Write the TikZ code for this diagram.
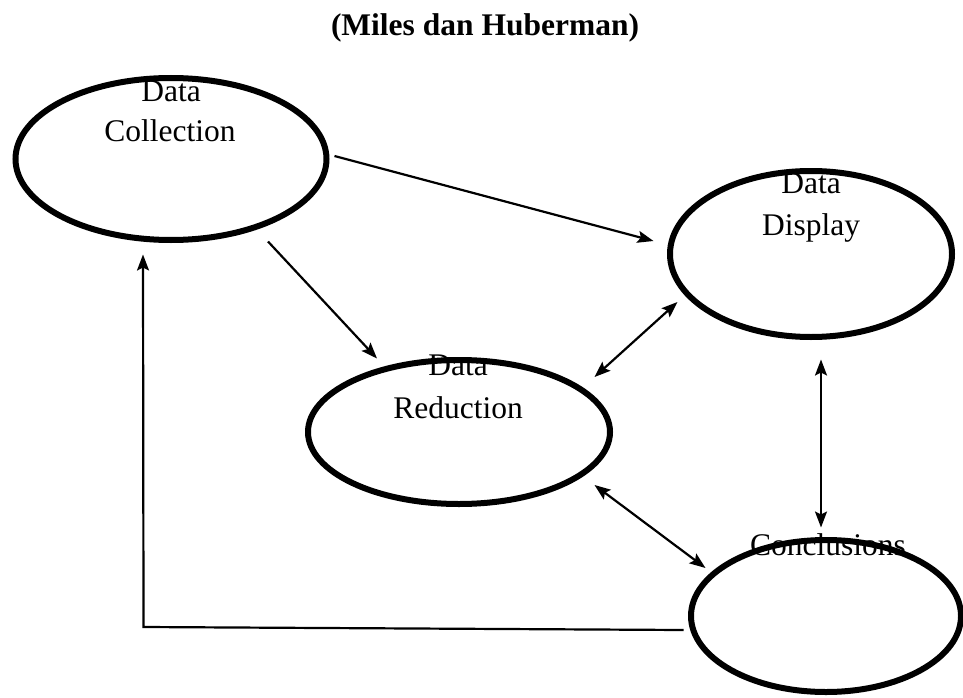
\documentclass[tikz,border=0pt]{standalone}
\usepackage{fontspec}
\setmainfont{Liberation Serif}
\usetikzlibrary{shapes.geometric,arrows.meta,calc}
\begin{document}
\begin{tikzpicture}[x=1pt,y=-1pt,
  ell/.style={ellipse, draw, line width=6pt, inner sep=0pt, outer sep=0pt},
  lbl/.style={font=\fontsize{31.5}{41}\selectfont, anchor=base, inner sep=0pt},
  tip/.tip={Stealth[length=16pt,width=12pt,inset=3pt]},
  arr/.style={line width=2.2pt, -tip},
  darr/.style={line width=2.2pt, tip-tip}]
\useasboundingbox (0,0) rectangle (963,698);

% title
\node[font=\fontsize{31.5}{38}\selectfont\bfseries, anchor=base, inner sep=0pt] (title) at (485,36) {(Miles dan Huberman)};

% ellipses
\node[ell, minimum width=311pt, minimum height=162pt] (coll) at (171,159) {};
\node[ell, minimum width=282pt, minimum height=166pt] (disp) at (811,254) {};
\node[ell, minimum width=302pt, minimum height=144pt] (red)  at (459,432) {};
\node[ell, minimum width=270pt, minimum height=152pt] (conc) at (826,616) {};

% labels
\node[lbl] (collA) at (171,102) {Data};
\node[lbl] (collB) at (170,142) {Collection};
\node[lbl] (dispA) at (811,193) {Data};
\node[lbl] (dispB) at (811,235) {Display};
\node[lbl] (redA)  at (458,375) {Data};
\node[lbl] (redB)  at (458,418) {Reduction};
\node[lbl] (concA) at (828,555) {Conclusions};

% connectors
\draw[arr] ($(coll.east)+(8,-3)$) -- ($(disp.west)+(-16.5,-13)$);
\draw[arr] ($(coll.south)+(97,1.5)$) -- ($(red.north)+(-82,-1.5)$);
\draw[darr] ($(red.east)+(-15.5,-55)$) -- ($(disp.west)+(7.5,48)$);
\draw[darr] ($(disp.south)+(10,22.5)$) -- ($(conc.north)+(-5,-12.5)$);
\draw[darr] ($(red.east)+(-15.5,53)$) -- ($(conc.west)+(14.5,-48)$);
\draw[arr] ($(conc.west)+(-7.5,14)$) -- ++(-540,-3) -- ($(coll.south)+(-28,14.5)$);
\end{tikzpicture}
\end{document}
